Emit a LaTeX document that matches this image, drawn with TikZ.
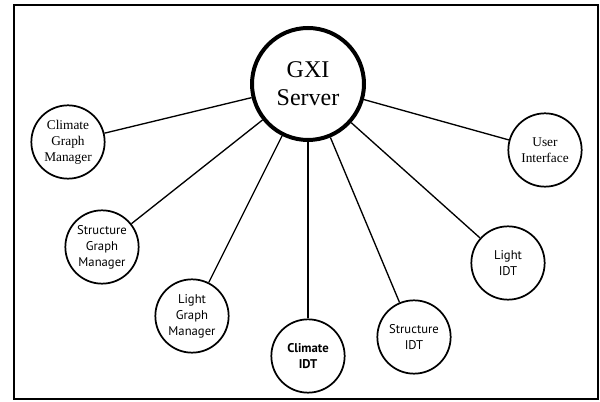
\documentclass[tikz,border=0pt]{standalone}
\usepackage{fontspec}
\setmainfont{Liberation Serif}
\newfontfamily\labelsans{PT Sans}
\begin{document}
\begin{tikzpicture}[x=0.75pt,y=-0.75pt,
  hub/.style={circle,draw,line width=3pt,minimum size=84pt,inner sep=0pt,
    align=center,font=\fontsize{18}{21}\selectfont},
  client/.style={circle,draw,line width=1.3pt,minimum size=55pt,inner sep=0pt,
    align=center,font=\labelsans\fontsize{9.5}{12}\selectfont},
  clientserif/.style={client,font=\fontsize{10}{12}\selectfont},
  link/.style={line width=1pt}]
  \useasboundingbox (0,0) rectangle (600,402);
  % outer frame
  \draw[line width=2pt] (14,5) rectangle (598,399);

  % server and the components attached to it
  \node[hub] (gxi) at (308,84) {GXI\\Server};
  \node[clientserif] (cgm) at (68,142) {Climate\\Graph\\Manager};
  \node[clientserif] (ui) at (545,150) {User\\Interface};
  \node[client] (sgm) at (102,247) {Structure\\Graph\\Manager};
  \node[client] (lgm) at (192,316) {Light\\Graph\\Manager};
  \node[client,font=\labelsans\bfseries\fontsize{9.5}{12}\selectfont] (cidt) at (308,356) {Climate\\IDT};
  \node[client] (sidt) at (414,337) {Structure\\IDT};
  \node[client] (lidt) at (508,263) {Light\\IDT};

  % connections to the server
  \foreach \n in {cgm,ui,sgm,lgm,cidt,sidt,lidt}
    \draw[link] (gxi) -- (\n);
\end{tikzpicture}
\end{document}
